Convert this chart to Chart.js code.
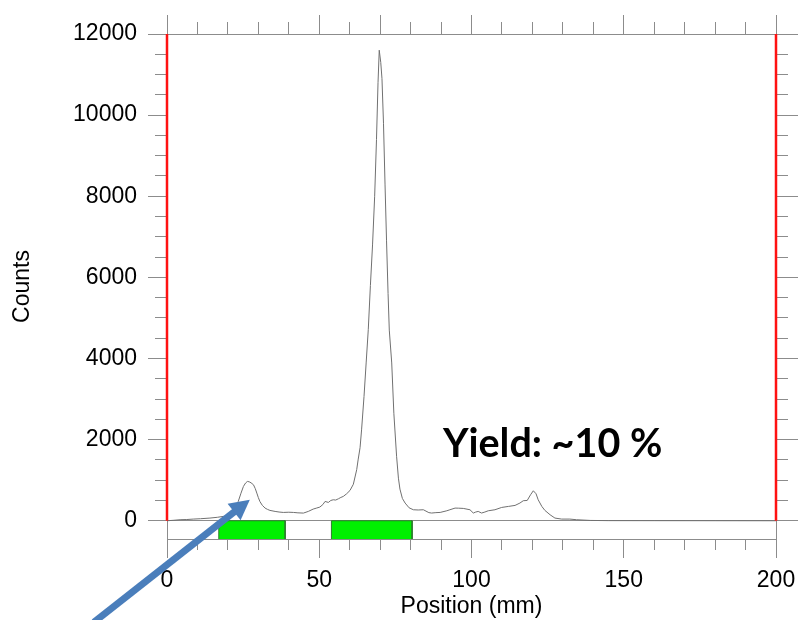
<!DOCTYPE html>
<html>
<head>
<meta charset="utf-8">
<title>Counts vs Position</title>
<script src="https://cdn.jsdelivr.net/npm/chart.js@4.4.1/dist/chart.umd.min.js"></script>
<style>
  html, body { margin: 0; padding: 0; background: #ffffff; }
  canvas { display: block; }
</style>
</head>
<body>
<canvas id="profile" width="799" height="620"></canvas>
<script>
// Scan profile: position along the strip (mm) and detector counts
const positionMm = [
  0, 2, 4.3, 6.5, 8.6, 11, 14.1, 16.5, 18.5, 19.6, 20.7, 21.8, 22.6, 23.4, 24.3, 25.1, 25.8, 26.4, 27.0, 27.6,
  28.4, 29.0, 29.5, 30.0, 30.5, 31.3, 32.2, 33.0, 33.8, 35.5, 36.8, 38.2, 40.0, 41.5, 43.0, 44.8, 46.4, 48.0, 49.0, 50.2,
  51.2, 51.9, 53.0, 53.8, 54.6, 55.4, 56.3, 57.1, 57.9, 59.0, 60.1, 61.2, 62.3, 62.8, 63.4, 63.9, 64.7, 65.4, 66.1, 66.8,
  67.5, 68.2, 68.8, 69.3, 69.7, 70.2, 70.6, 71.1, 71.6, 72.1, 72.6, 73.0, 73.8, 74.5, 75.4, 76.0, 76.5, 77.3, 78.2, 79.5,
  80.9, 82.5, 84.2, 86.0, 86.9, 88.3, 89.7, 91.9, 92.9, 94.6, 95.8, 97.3, 99.5, 100.6, 101.4, 102.2, 103.3, 104.4, 105.5, 107.7,
  109.9, 112.1, 114.3, 115.9, 117.0, 118.3, 119.4, 120.3, 121.2, 121.9, 123.1, 124.1, 125.8, 127.4, 129.6, 132.3, 134.5, 139, 145, 160,
  180, 200
];
const counts = [
  0, 10, 25, 30, 41, 50, 66, 85, 107, 120, 150, 200, 300, 476, 680, 846, 930, 969, 960, 935,
  887, 790, 682, 570, 476, 380, 312, 280, 255, 230, 215, 205, 210, 205, 195, 189, 230, 287, 310, 337,
  400, 476, 452, 500, 517, 510, 542, 575, 600, 665, 747, 900, 1260, 1520, 1800, 2240, 3060, 3890, 4710, 5800,
  6800, 8000, 9400, 10800, 11600, 11300, 10900, 9800, 8300, 6900, 5600, 4700, 3890, 2650, 1590, 1050, 780, 550, 436, 320,
  271, 265, 271, 200, 190, 200, 205, 246, 271, 312, 310, 304, 271, 190, 215, 230, 190, 215, 246, 271,
  328, 353, 378, 436, 493, 501, 641, 739, 665, 517, 353, 255, 148, 66, 41, 41, 25, 8, 3, 2,
  1, 0
];

// Axis ticks
const countTicks = [0, 2000, 4000, 6000, 8000, 10000, 12000];
const countMinorStep = 500;
const positionTicks = [0, 50, 100, 150, 200];
const positionMinorStep = 10;
const peakPosition = 70;

// Collection windows shown in the strip under the zero line (mm)
const windowStart = [17, 54];
const windowEnd = [38.8, 80.5];

// Strip ends (red markers, mm)
const stripEnds = [0, 200];

// Annotation
const yieldLabel = 'Yield: ~10 %';
const yieldAnchor = { x: 90.6, y: 1580 };
const arrowTail = { x: -24, y: -2500 };
const arrowTip = { x: 27.2, y: 520 };

const COUNT_MAX = 12000;
const STRIP_MIN = -450;   // depth of the window strip below zero counts
const POS_MIN = 0, POS_MAX = 200;

const AXIS_GRAY = '#8c8c8c';
const FONT_FAMILY = "'Liberation Sans', Arial, sans-serif";

function range(a, b, step) {
  const out = [];
  for (let v = a; v <= b + 1e-9; v += step) out.push(v);
  return out;
}
const countMinorTicks = range(0, COUNT_MAX, countMinorStep);
const positionMinorTicks = range(POS_MIN, POS_MAX, positionMinorStep);
const positionTopMajor = positionTicks.concat([peakPosition]).sort((a, b) => a - b);

function fixedTicks(values) {
  return scale => { scale.ticks = values.map(v => ({ value: v })); };
}

Chart.defaults.font.family = FONT_FAMILY;
Chart.defaults.color = '#000';

const datasets = [];

stripEnds.forEach(p => {
  datasets.push({
    data: [{ x: p, y: 0 }, { x: p, y: COUNT_MAX }],
    borderColor: '#ff1111',
    borderWidth: 2.5,
    pointRadius: 0,
    clip: false,
    xAxisID: 'x', yAxisID: 'y'
  });
});

datasets.push({
  data: positionMm.map((p, i) => ({ x: p, y: counts[i] })),
  borderColor: '#707070',
  borderWidth: 1,
  pointRadius: 0,
  tension: 0,
  xAxisID: 'x', yAxisID: 'y'
});

windowStart.forEach((s, i) => {
  const e = windowEnd[i];
  datasets.push({
    data: [{ x: s, y: STRIP_MIN }, { x: s, y: 0 }, { x: e, y: 0 }, { x: e, y: STRIP_MIN }],
    borderColor: '#2d7a2d',
    borderWidth: 1,
    backgroundColor: '#00f000',
    fill: 'start',
    pointRadius: 0,
    tension: 0,
    xAxisID: 'x', yAxisID: 'y'
  });
});

const plainGrid = (len) => ({
  display: true, drawOnChartArea: false, drawTicks: true,
  tickLength: len, tickColor: AXIS_GRAY, tickWidth: 1
});

// keep the axis box sizes fixed and stop edge labels from shrinking the plot
function fixSize(w, h) {
  return s => {
    if (w !== null) s.width = w;
    if (h !== null) s.height = h;
    s.paddingLeft = 0; s.paddingRight = 0; s.paddingTop = 0; s.paddingBottom = 0;
  };
}

const annotations = {
  id: 'annotations',
  afterDraw(chart) {
    const { ctx } = chart;
    const x = chart.scales.x, y = chart.scales.y;
    const x0 = x.getPixelForValue(arrowTail.x), y0 = y.getPixelForValue(arrowTail.y);
    const x1 = x.getPixelForValue(arrowTip.x), y1 = y.getPixelForValue(arrowTip.y);
    const ang = Math.atan2(y1 - y0, x1 - x0);
    const c = Math.cos(ang), s = Math.sin(ang);
    const headLen = 20, headHalf = 10.5;
    const bx = x1 - headLen * c, by = y1 - headLen * s;
    ctx.save();
    ctx.strokeStyle = '#4a7ebb';
    ctx.fillStyle = '#4a7ebb';
    ctx.lineWidth = 7;
    ctx.lineCap = 'butt';
    ctx.beginPath();
    ctx.moveTo(x0, y0);
    ctx.lineTo(bx + 2 * c, by + 2 * s);
    ctx.stroke();
    ctx.beginPath();
    ctx.moveTo(x1, y1);
    ctx.lineTo(bx + headHalf * s, by - headHalf * c);
    ctx.lineTo(bx - headHalf * s, by + headHalf * c);
    ctx.closePath();
    ctx.fill();

    ctx.fillStyle = '#000';
    ctx.font = "bold 39.5px Lato, 'Open Sans', sans-serif";
    ctx.textAlign = 'left';
    ctx.textBaseline = 'alphabetic';
    ctx.fillText(yieldLabel, x.getPixelForValue(yieldAnchor.x), y.getPixelForValue(yieldAnchor.y));
    ctx.restore();
  }
};

new Chart(document.getElementById('profile'), {
  type: 'line',
  data: { datasets },
  options: {
    responsive: false,
    animation: false,
    events: [],
    layout: { padding: { left: 0, right: 1, top: 15, bottom: 0 } },
    plugins: { legend: { display: false }, tooltip: { enabled: false } },
    scales: {
      // bottom: minor ticks next to the strip
      x: {
        type: 'linear', position: 'bottom', weight: 0,
        min: POS_MIN, max: POS_MAX,
        afterBuildTicks: fixedTicks(positionMinorTicks),
        ticks: { display: false },
        grid: plainGrid(11),
        border: { display: true, color: AXIS_GRAY, width: 1 },
        afterFit: fixSize(null, 11)
      },
      // bottom: major ticks, labels and title
      xLabels: {
        type: 'linear', position: 'bottom', weight: 1,
        min: POS_MIN, max: POS_MAX,
        afterBuildTicks: fixedTicks(positionTicks),
        ticks: { display: true, autoSkip: false, maxRotation: 0, padding: 9,
                 font: { size: 23 }, color: '#000', callback: v => String(v) },
        grid: plainGrid(8),
        border: { display: false },
        title: { display: true, text: 'Position (mm)', font: { size: 23 }, color: '#000',
                 padding: { top: 0, bottom: 0 } },
        afterFit: fixSize(null, 70)
      },
      xTop: {
        type: 'linear', position: 'top', weight: 0,
        min: POS_MIN, max: POS_MAX,
        afterBuildTicks: fixedTicks(positionMinorTicks),
        ticks: { display: false },
        grid: plainGrid(12),
        border: { display: true, color: AXIS_GRAY, width: 1 },
        afterFit: fixSize(null, 12)
      },
      xTopMajor: {
        type: 'linear', position: 'top', weight: 1,
        min: POS_MIN, max: POS_MAX,
        afterBuildTicks: fixedTicks(positionTopMajor),
        ticks: { display: false },
        grid: plainGrid(7),
        border: { display: false },
        afterFit: fixSize(null, 7)
      },
      // left: minor ticks plus the zero line across the plot
      y: {
        type: 'linear', position: 'left', weight: 0,
        min: STRIP_MIN, max: COUNT_MAX,
        afterBuildTicks: fixedTicks(countMinorTicks),
        ticks: { display: false },
        grid: {
          display: true, drawOnChartArea: true, drawTicks: true,
          tickLength: 12, tickColor: AXIS_GRAY, tickWidth: 1,
          color: ctx => (ctx.tick && ctx.tick.value === 0) ? AXIS_GRAY : 'rgba(0,0,0,0)',
          lineWidth: 1
        },
        border: { display: true, color: AXIS_GRAY, width: 1 },
        afterFit: fixSize(12, null)
      },
      yLabels: {
        type: 'linear', position: 'left', weight: 1,
        min: STRIP_MIN, max: COUNT_MAX,
        afterBuildTicks: fixedTicks(countTicks),
        ticks: { display: true, autoSkip: false, padding: 11,
                 font: { size: 23 }, color: '#000', callback: v => String(v) },
        grid: plainGrid(7),
        border: { display: false },
        title: { display: true, text: 'Counts', font: { size: 23 }, color: '#000',
                 padding: { top: 9, bottom: 0 } },
        afterFit: fixSize(155, null)
      },
      yRight: {
        type: 'linear', position: 'right', weight: 0,
        min: STRIP_MIN, max: COUNT_MAX,
        afterBuildTicks: fixedTicks(countMinorTicks),
        ticks: { display: false },
        grid: plainGrid(12),
        border: { display: true, color: AXIS_GRAY, width: 1 },
        afterFit: fixSize(12, null)
      },
      yRightMajor: {
        type: 'linear', position: 'right', weight: 1,
        min: STRIP_MIN, max: COUNT_MAX,
        afterBuildTicks: fixedTicks(countTicks),
        ticks: { display: false },
        grid: plainGrid(10),
        border: { display: false },
        afterFit: fixSize(10, null)
      }
    }
  },
  plugins: [annotations]
});
</script>
</body>
</html>
